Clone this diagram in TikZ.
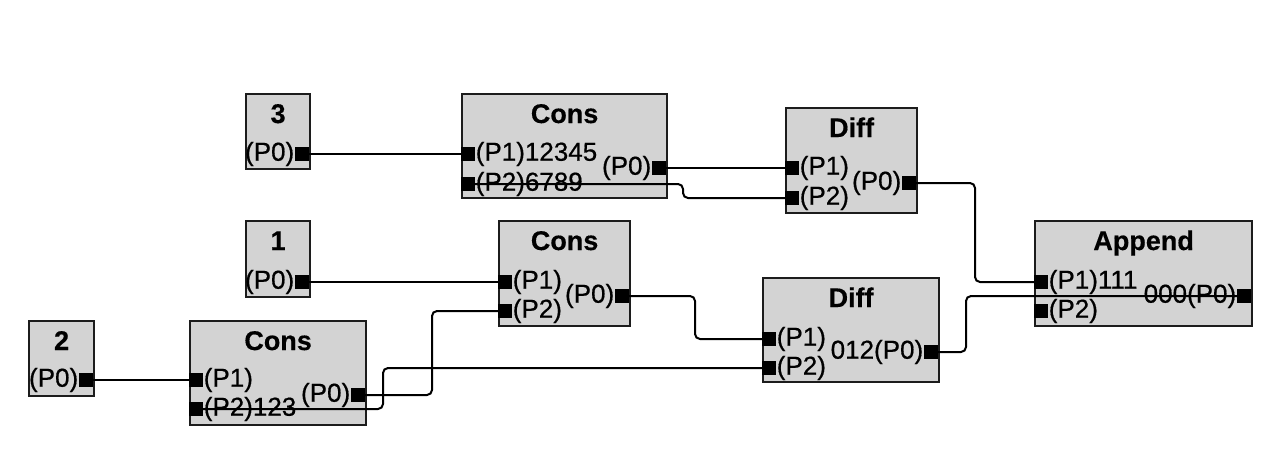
\documentclass[tikz,border=0pt]{standalone}
\usepackage{fontspec}
\setmainfont{Liberation Sans}[FakeBold=0.6]
\newfontfamily\titlefont{Liberation Sans Bold}[FakeBold=0.4]
\usetikzlibrary{calc}
\definecolor{blockfill}{RGB}{211,211,211}
\definecolor{edgecol}{RGB}{28,28,28}
\begin{document}
\begin{tikzpicture}[x=1pt,y=-1pt,
  block/.style n args={2}{draw=edgecol, line width=2.2pt, fill=blockfill,
    anchor=north west, inner sep=0, minimum width=#1, minimum height=#2},
  ttl/.style={font=\fontsize{27}{30}\selectfont\titlefont, anchor=base, inner sep=0},
  lbl/.style={font=\fontsize{26}{28}\selectfont, inner sep=0.6pt},
  inlbl/.style={lbl, anchor=west},
  outlbl/.style={lbl, anchor=east},
  port/.style={fill=black, draw=none, minimum size=14pt, inner sep=0, outer sep=0},
  wire/.style={draw=black, line width=2pt, rounded corners=5pt}
]
\useasboundingbox[fill=white] (0,0) rectangle (1280,458);

% ---- blocks ----
\node[block={64pt}{75pt}]   (k3) at (245,93)  {};
\node[block={205pt}{104pt}] (c1) at (461,93)  {};
\node[block={131pt}{105pt}] (d1) at (785,107) {};
\node[block={64pt}{76pt}]   (k1) at (245,220) {};
\node[block={131pt}{105pt}] (c2) at (498,220) {};
\node[block={217pt}{105pt}] (ap) at (1034,220) {};
\node[block={65pt}{75pt}]   (k2) at (28,320)  {};
\node[block={176pt}{104pt}] (c3) at (189,320) {};
\node[block={176pt}{104pt}] (d2) at (762,277) {};

% ---- titles ----
\node[ttl] at ($(k3.north)+(0,30)$) {3};
\node[ttl] at ($(c1.north)+(0,30)$) {Cons};
\node[ttl] at ($(d1.north)+(0,30)$) {Diff};
\node[ttl] at ($(k1.north)+(0,30)$) {1};
\node[ttl] at ($(c2.north)+(0,30)$) {Cons};
\node[ttl] at ($(ap.north)+(0,30)$) {Append};
\node[ttl] at ($(k2.north)+(0,30)$) {2};
\node[ttl] at ($(c3.north)+(0,30)$) {Cons};
\node[ttl] at ($(d2.north)+(0,30)$) {Diff};

% ---- ports ----
\node[port, anchor=east] (k3p0) at (309,154) {};
\node[port, anchor=west] (c1p1) at (461,154) {};
\node[port, anchor=west] (c1p2) at (461,184) {};
\node[port, anchor=east] (c1p0) at (666,168) {};
\node[port, anchor=west] (d1p1) at (785,168) {};
\node[port, anchor=west] (d1p2) at (785,198) {};
\node[port, anchor=east] (d1p0) at (916,183) {};
\node[port, anchor=east] (k1p0) at (309,282) {};
\node[port, anchor=west] (c2p1) at (498,282) {};
\node[port, anchor=west] (c2p2) at (498,311) {};
\node[port, anchor=east] (c2p0) at (629,296) {};
\node[port, anchor=west] (app1) at (1034,282) {};
\node[port, anchor=west] (app2) at (1034,311) {};
\node[port, anchor=east] (app0) at (1251,296) {};
\node[port, anchor=east] (k2p0) at (93,380) {};
\node[port, anchor=west] (c3p1) at (189,380) {};
\node[port, anchor=west] (c3p2) at (189,409) {};
\node[port, anchor=east] (c3p0) at (365,395) {};
\node[port, anchor=west] (d2p1) at (762,339) {};
\node[port, anchor=west] (d2p2) at (762,368) {};
\node[port, anchor=east] (d2p0) at (938,352) {};

% ---- port labels ----
\node[outlbl] at (k3p0.west) {(P0)};
\node[inlbl]  at (c1p1.east) {(P1)12345};
\node[inlbl]  at (c1p2.east) {(P2)6789};
\node[outlbl] at (c1p0.west) {(P0)};
\node[inlbl]  at (d1p1.east) {(P1)};
\node[inlbl]  at (d1p2.east) {(P2)};
\node[outlbl] at (d1p0.west) {(P0)};
\node[outlbl] at (k1p0.west) {(P0)};
\node[inlbl]  at (c2p1.east) {(P1)};
\node[inlbl]  at (c2p2.east) {(P2)};
\node[outlbl] at (c2p0.west) {(P0)};
\node[inlbl]  at (app1.east) {(P1)111};
\node[inlbl]  at (app2.east) {(P2)};
\node[outlbl] at (app0.west) {000(P0)};
\node[outlbl] at (k2p0.west) {(P0)};
\node[inlbl]  at (c3p1.east) {(P1)};
\node[inlbl]  at (c3p2.east) {(P2)123};
\node[outlbl] at (c3p0.west) {(P0)};
\node[inlbl]  at (d2p1.east) {(P1)};
\node[inlbl]  at (d2p2.east) {(P2)};
\node[outlbl] at (d2p0.west) {012(P0)};

% ---- bend columns of the routed wires ----
\coordinate (x1) at (683,0);
\coordinate (x2) at (975,0);
\coordinate (x3) at (695,0);
\coordinate (x4) at (966,0);
\coordinate (x5) at (432,0);
\coordinate (x6) at (383,0);

% ---- wires ----
\draw[wire] (k3p0.east) -- (c1p1.west);
\draw[wire] (c1p0.east) -- (d1p1.west);
\draw[wire] (c1p2.center) -| (x1 |- d1p2.west) -- (d1p2.west);
\draw[wire] (d1p0.east) -| (x2 |- app1.west) -- (app1.west);
\draw[wire] (k1p0.east) -- (c2p1.west);
\draw[wire] (c2p0.east) -| (x3 |- d2p1.west) -- (d2p1.west);
\draw[wire] (d2p0.east) -| (x4 |- app0.center) -- (app0.center);
\draw[wire] (k2p0.east) -- (c3p1.west);
\draw[wire] (c3p0.east) -| (x5 |- c2p2.west) -- (c2p2.west);
\draw[wire] (c3p2.center) -| (x6 |- d2p2.west) -- (d2p2.west);

% ports on top of the wires
\foreach \p in {k3p0,c1p1,c1p2,c1p0,d1p1,d1p2,d1p0,k1p0,c2p1,c2p2,c2p0,
                app1,app2,app0,k2p0,c3p1,c3p2,c3p0,d2p1,d2p2,d2p0}
  \fill[black] (\p.south west) rectangle (\p.north east);
\end{tikzpicture}
\end{document}
